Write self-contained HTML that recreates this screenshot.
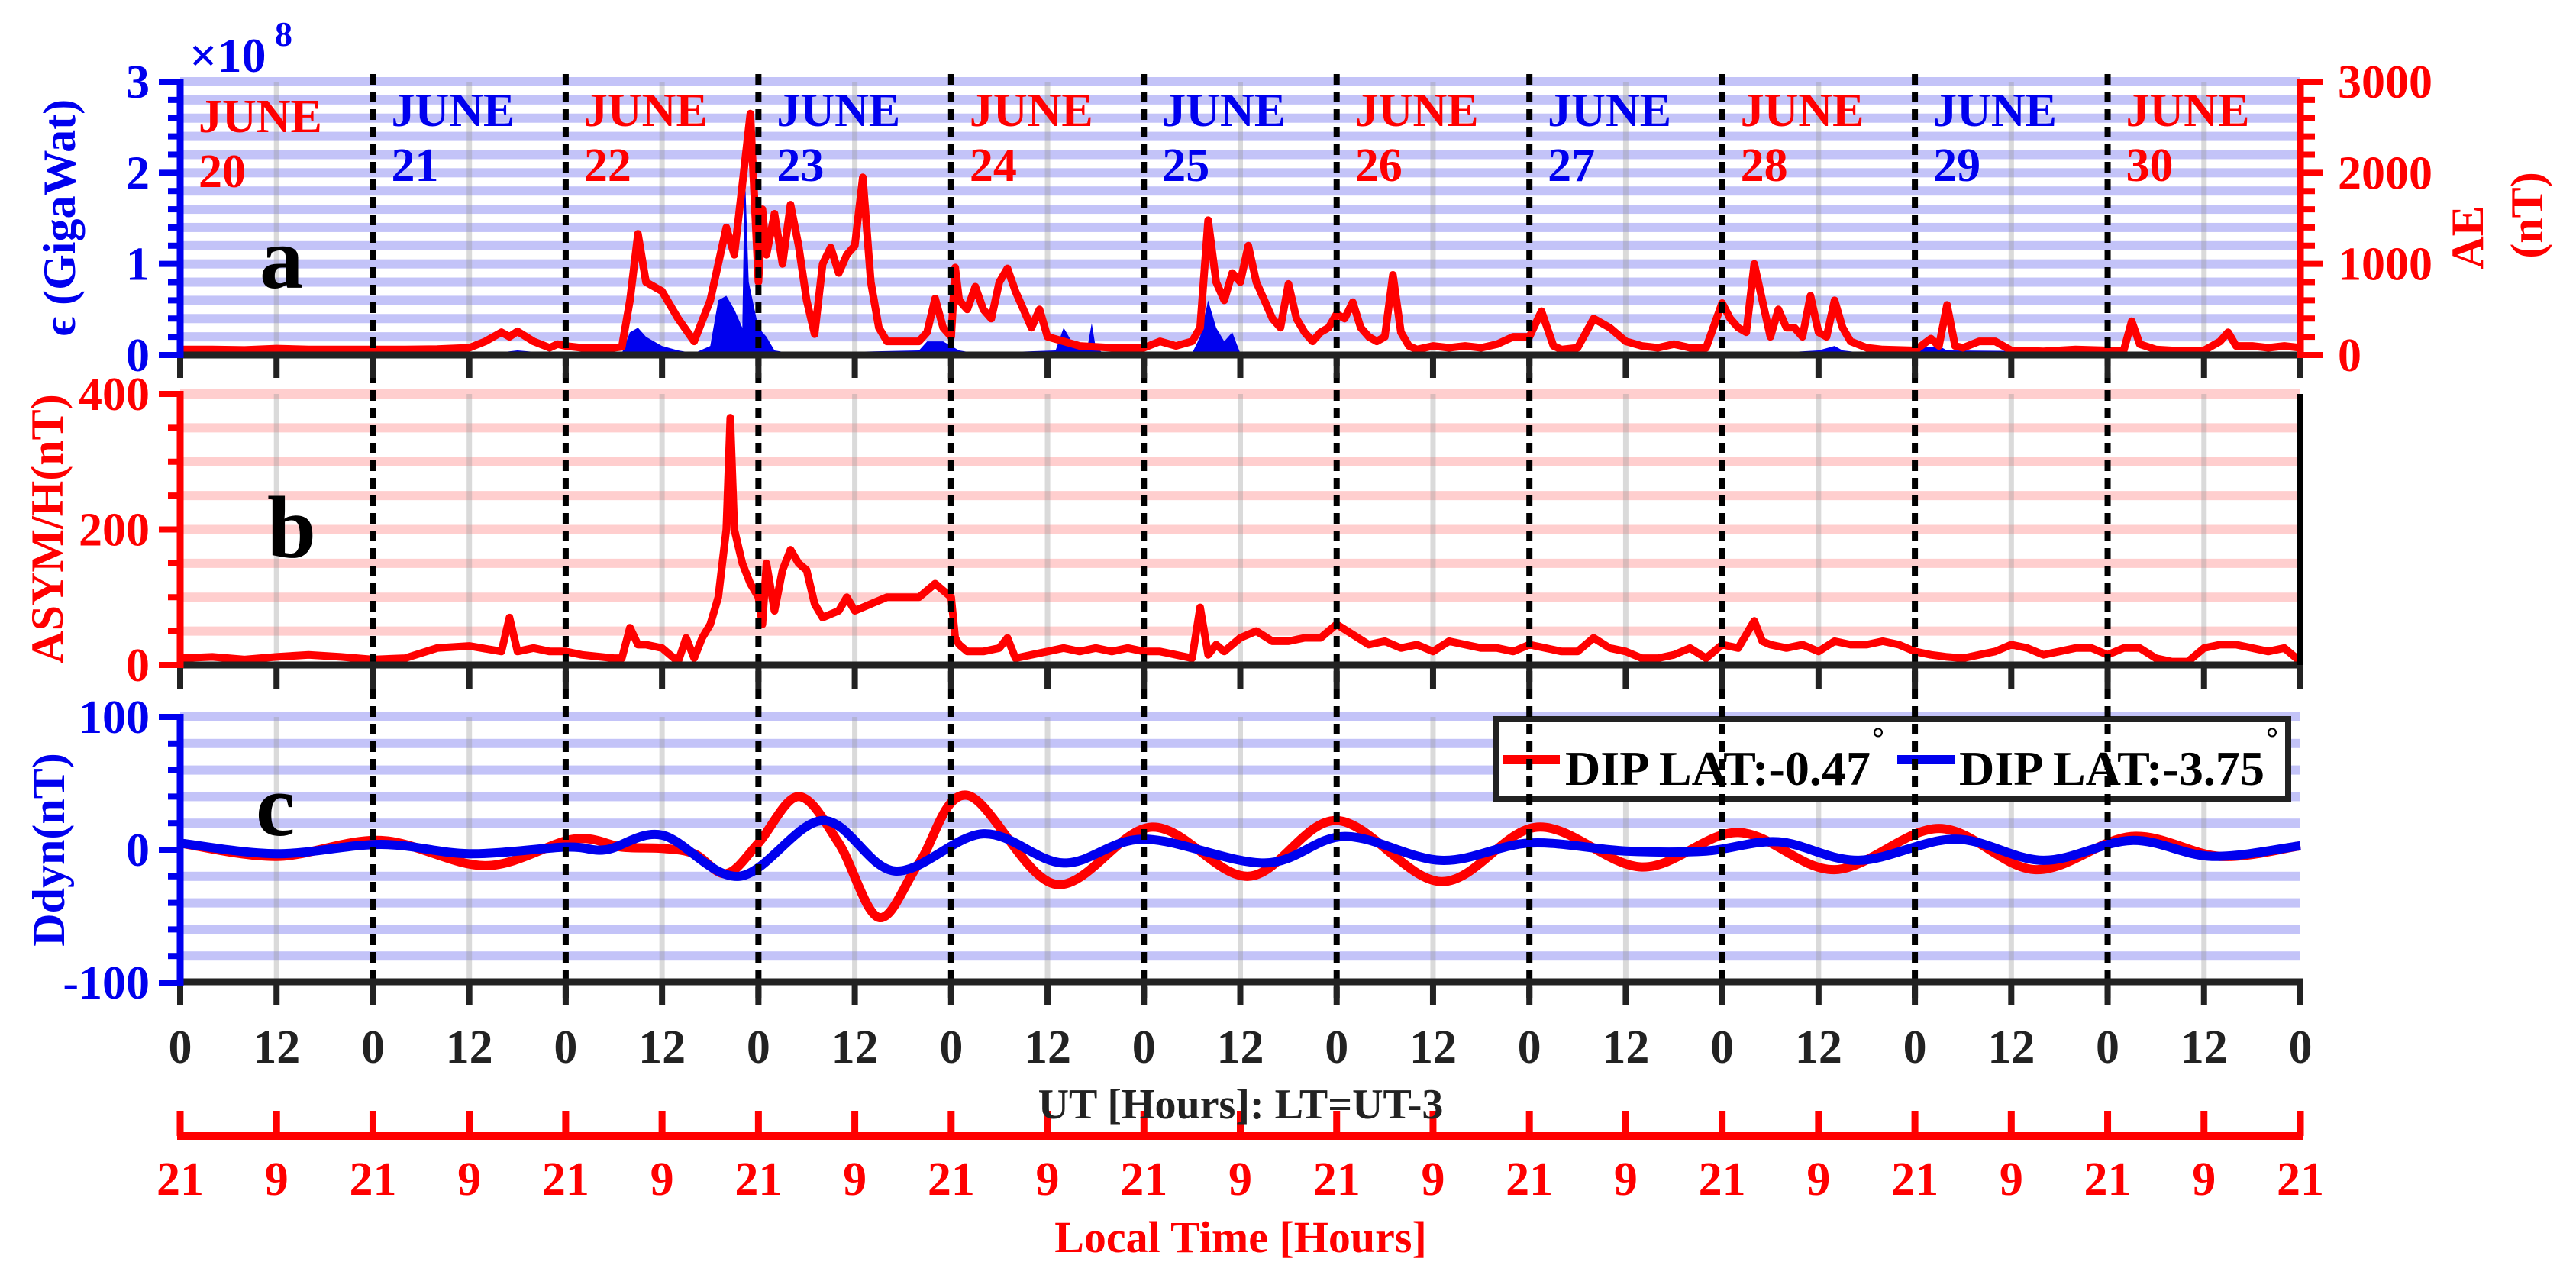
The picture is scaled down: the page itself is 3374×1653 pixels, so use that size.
<!DOCTYPE html>
<html><head><meta charset="utf-8"><style>
html,body{margin:0;padding:0;background:#fff;}
svg{display:block;font-family:"Liberation Serif",serif;font-weight:bold;}
</style></head>
<body>
<svg id="chart" width="3374" height="1653" viewBox="0 0 3374 1653" xmlns="http://www.w3.org/2000/svg">
<g id="bg"></g><g id="marks"></g><g id="fg"></g>
<text x="248" y="94" fill="#0000ee" font-size="64">×10</text>
<text x="360" y="60" fill="#0000ee" font-size="46">8</text>
<text x="340" y="377" font-size="115" fill="#000">a</text>
<text x="350" y="730" font-size="115" fill="#000">b</text>
<text x="335" y="1094" font-size="115" fill="#000">c</text>
<text transform="translate(98,285) rotate(-90)" text-anchor="middle" fill="#0000ee" font-size="60">ϵ (GigaWat)</text>
<text transform="translate(82,693) rotate(-90)" text-anchor="middle" fill="#ff0000" font-size="60">ASYM/H(nT)</text>
<text transform="translate(84,1113) rotate(-90)" text-anchor="middle" fill="#0000ee" font-size="60">Ddyn(nT)</text>
<text transform="translate(3252,311) rotate(-90)" text-anchor="middle" fill="#ff0000" font-size="60">AE</text>
<text transform="translate(3330,282) rotate(-90)" text-anchor="middle" fill="#ff0000" font-size="60">(nT)</text>
<text x="1625" y="1465" text-anchor="middle" fill="#222" font-size="56">UT [Hours]: LT=UT-3</text>
<text x="1625" y="1640" text-anchor="middle" fill="#ff0000" font-size="58">Local Time [Hours]</text>
</svg>
<script>
// ---- data ----
const dayLabels = ["20","21","22","23","24","25","26","27","28","29","30"];
const aeSeries = [[0,60],[4,60],[8,55],[12,70],[16,60],[20,60],[24,60],[28,60],[32,65],[36,80],[38,150],[40,250],[41,200],[42,260],[44,150],[46,80],[47,120],[48,100],[50,80],[54,80],[55,90],[56,600],[57,1330],[58,800],[60,700],[62,400],[64,150],[66,600],[68,1400],[69,1100],[70,1870],[71,2650],[72,800],[72.5,1600],[73,1100],[74,1550],[75,1000],[76,1650],[77,1200],[78,600],[79,230],[80,1000],[81,1180],[82,900],[83,1100],[84,1200],[85,1950],[86,800],[87,300],[88,150],[90,150],[92,150],[93,250],[94,620],[95,300],[96,200],[96.5,960],[97,600],[98,500],[99,750],[100,500],[101,400],[102,800],[103,950],[104,700],[105,500],[106,300],[107,500],[108,200],[110,150],[112,100],[116,80],[120,80],[122,150],[124,100],[126,150],[127,300],[128,1480],[129,800],[130,600],[131,900],[132,800],[133,1200],[134,800],[135,600],[136,400],[137,300],[138,780],[139,400],[140,250],[141,150],[142,250],[143,300],[144,450],[145,400],[146,580],[147,300],[148,200],[149,150],[150,200],[151,880],[152,250],[153,100],[154,60],[156,100],[158,80],[160,100],[162,80],[164,120],[166,200],[168,200],[169.5,480],[171,100],[172,60],[174,80],[176,400],[177,350],[178,300],[180,150],[182,100],[184,80],[186,120],[188,80],[190,80],[192,570],[193,400],[194,300],[195,250],[196,1000],[197,600],[198,200],[199,500],[200,300],[201,300],[202,200],[203,650],[204,250],[205,200],[206,600],[207,300],[208,150],[210,80],[212,60],[216,50],[218,180],[219,100],[220,550],[221,100],[222,80],[224,150],[226,150],[228,50],[232,40],[236,60],[240,50],[242,50],[243,370],[244,120],[246,60],[248,50],[252,50],[254,150],[255,250],[256,100],[258,100],[260,80],[262,100],[264,80]];
const epsSeries = [[0,0.02],[40,0.03],[42,0.05],[46,0.02],[55,0.02],[56,0.25],[57,0.3],[58,0.2],[60,0.1],[62,0.05],[64,0.02],[66,0.1],[67,0.6],[68,0.65],[69,0.5],[70,0.3],[70.3,2.05],[70.8,0.8],[72,0.3],[73,0.2],[74,0.05],[76,0.02],[92,0.05],[93,0.15],[95,0.15],[96,0.1],[97,0.05],[99,0.02],[109,0.05],[110,0.3],[111,0.15],[113,0.1],[113.5,0.35],[114,0.08],[115,0.02],[126,0.02],[127,0.2],[128,0.6],[129,0.3],[130,0.15],[131,0.25],[132,0.02],[200,0.03],[204,0.05],[206,0.1],[207,0.05],[210,0.02],[219,0.1],[220,0.05],[264,0.02]];
const asymSeries = [[0,10],[4,12],[8,8],[12,12],[16,15],[20,12],[24,8],[28,10],[32,25],[36,28],[40,20],[41,70],[42,20],[44,25],[46,20],[48,20],[50,15],[54,10],[55,10],[56,55],[57,30],[58,30],[60,25],[62,5],[63,40],[64,10],[65,40],[66,60],[67,100],[68,200],[68.5,365],[69,200],[70,150],[71,120],[72,100],[72.5,60],[73,150],[74,80],[75,140],[76,170],[77,150],[78,140],[79,90],[80,70],[82,80],[83,100],[84,80],[86,90],[88,100],[90,100],[92,100],[94,120],[95,110],[96,100],[96.5,40],[97,30],[98,20],[100,20],[102,25],[103,40],[104,10],[106,15],[108,20],[110,25],[112,20],[114,25],[116,20],[118,25],[120,20],[122,20],[124,15],[126,10],[127,85],[128,15],[129,30],[130,20],[132,40],[134,50],[136,35],[138,35],[140,40],[142,40],[143,50],[144,60],[146,45],[148,30],[150,35],[152,25],[154,30],[156,20],[158,35],[160,30],[162,25],[164,25],[166,20],[168,30],[170,25],[172,20],[174,20],[176,40],[178,25],[180,20],[182,10],[184,10],[186,15],[188,25],[190,10],[192,30],[194,25],[196,65],[197,35],[198,30],[200,25],[202,30],[204,20],[206,35],[208,30],[210,30],[212,35],[214,30],[216,20],[218,15],[220,12],[222,10],[224,15],[226,20],[228,30],[230,25],[232,15],[234,20],[236,25],[238,25],[240,15],[242,25],[244,25],[246,10],[248,5],[250,5],[252,25],[254,30],[256,30],[258,25],[260,20],[262,25],[264,5]];
const ddynRedSeries = [[0,5],[12,-5],[25,7],[38,-12],[49,8],[55,2],[60,1],[64,-3],[68,-18],[72,5],[77,40],[82,5],[87,-51],[92,-10],[98,41],[109,-26],[121,17],[133,-20],[144,22],[157,-24],[169,17],[182,-13],[194,13],[206,-15],[219,16],[231,-15],[243,10],[254,-5],[264,3]];
const ddynBlueSeries = [[0,5],[12,-3],[25,4],[36,-3],[48,2],[53,0],[60,11],[69.6,-20],[80,22],[89,-16],[100,12],[110,-10],[120,8],[135,-10],[145,10],[157,-8],[168,5],[180,-1],[190,-1],[199,6],[209,-8],[221,8],[232,-8],[243,7],[253,-5],[264,3]];
const utTickLabels = ["0","12"];
const ltTickLabels = ["21","9"];
const aeTickLabels = ["0","1000","2000","3000"];
const epsTickLabels = ["0","1","2","3"];
const asymTickLabels = ["0","200","400"];
const ddynTickLabels = ["-100","0","100"];

// ---- geometry ----
const NS="http://www.w3.org/2000/svg";
const X0=236,X1=3013,HMAX=264;
const x=h=>X0+(X1-X0)*h/HMAX;
const yA=v=>465-(465-107)*v/3;
const yB=v=>871-(871-516)*v/400;
const yC=v=>1113-(1113-939)*v/100;
const BLUE="#0000ee",RED="#ff0000";
const bg=document.getElementById('bg'),marks=document.getElementById('marks'),fg=document.getElementById('fg');
function mk(tag,attrs,parent){const e=document.createElementNS(NS,tag);for(const k in attrs)e.setAttribute(k,attrs[k]);parent.appendChild(e);return e;}

function stripes(fn,vals,color,name){
  vals.forEach(v=>{const r=mk('rect',{x:X0,y:fn(v)-6,width:X1-X0,height:12,fill:color},bg);
    
    });
}
const sa=[];for(let i=1;i<=15;i++)sa.push(i*0.2);
stripes(yA,sa,"rgba(40,40,230,0.28)","eps-grid-stripe");
const sb=[];for(let i=1;i<=8;i++)sb.push(i*50);
stripes(yB,sb,"rgba(255,60,60,0.25)","asym-grid-stripe");
const sc=[];for(let i=-4;i<=5;i++)if(i!==0)sc.push(i*20);
stripes(yC,sc,"rgba(40,40,230,0.28)","ddyn-grid-stripe");
const panels=[[107,465],[516,871],[939,1286]];
for(let h=12;h<HMAX;h+=24){panels.forEach(p=>{const l=mk('line',{x1:x(h),x2:x(h),y1:p[0],y2:p[1],stroke:"rgba(150,150,150,0.35)","stroke-width":7},bg);
  
  });}

function pathFrom(series,fx,fy){return series.map((p,i)=>(i?'L':'M')+fx(p[0]).toFixed(1)+','+fy(p[1]).toFixed(1)).join('');}
const epsArea=mk('path',{d:pathFrom(epsSeries,x,yA)+'L'+x(264)+','+yA(0)+'L'+x(0)+','+yA(0)+'Z',fill:BLUE},marks);


const aeLine=mk('path',{d:pathFrom(aeSeries,x,v=>yA(v/1000)),fill:'none',stroke:RED,'stroke-width':10,'stroke-linejoin':'round'},marks);


const asymLine=mk('path',{d:pathFrom(asymSeries,x,yB),fill:'none',stroke:RED,'stroke-width':10,'stroke-linejoin':'round'},marks);


function smooth(series,fy){const P=series.map(p=>[x(p[0]),fy(p[1])]);let d='M'+P[0][0]+','+P[0][1];
  for(let i=0;i<P.length-1;i++){const p0=P[Math.max(0,i-1)],p1=P[i],p2=P[i+1],p3=P[Math.min(P.length-1,i+2)];
    const c1=[p1[0]+(p2[0]-p0[0])/6,p1[1]+(p2[1]-p0[1])/6],c2=[p2[0]-(p3[0]-p1[0])/6,p2[1]-(p3[1]-p1[1])/6];
    d+='C'+c1.join(',')+' '+c2.join(',')+' '+p2.join(',');}return d;}
const redD=mk('path',{d:smooth(ddynRedSeries,yC),fill:'none',stroke:RED,'stroke-width':12},marks);


const blueD=mk('path',{d:smooth(ddynBlueSeries,yC),fill:'none',stroke:BLUE,'stroke-width':12},marks);



const lg=mk('g',{},fg);


mk('rect',{x:1959,y:942,width:1038,height:104,fill:'#fff',stroke:'#222','stroke-width':8},lg);
mk('line',{x1:1968,x2:2043,y1:995,y2:995,stroke:RED,'stroke-width':12},lg);
mk('line',{x1:2485,x2:2560,y1:995,y2:995,stroke:BLUE,'stroke-width':12},lg);
const t1=mk('text',{x:2050,y:1028,'font-size':64,textLength:400,lengthAdjust:'spacingAndGlyphs',fill:'#000'},lg);t1.textContent='DIP LAT:-0.47';


const d1=mk('text',{x:2452,y:980,'font-size':40,fill:'#000'},lg);d1.textContent='°';
const t2=mk('text',{x:2566,y:1028,'font-size':64,textLength:400,lengthAdjust:'spacingAndGlyphs',fill:'#000'},lg);t2.textContent='DIP LAT:-3.75';


const d2=mk('text',{x:2968,y:980,'font-size':40,fill:'#000'},lg);d2.textContent='°';

for(let k=1;k<11;k++){const l=mk('line',{x1:x(24*k),x2:x(24*k),y1:97,y2:1308,stroke:'#000','stroke-width':8,'stroke-dasharray':'14 9'},fg);
  
  }
dayLabels.forEach((d,i)=>{const c=i%2?BLUE:RED;const xx=x(24*i)+24;
  const a=mk('text',{x:xx,y:i===0?173:165,'font-size':62,fill:c},fg);a.textContent='JUNE';
  
  
  const b=mk('text',{x:xx,y:i===0?245:237,'font-size':62,fill:c},fg);b.textContent=d;
  
  });

function line(x1,y1,x2,y2,c,w,name){const l=mk('line',{x1,y1,x2,y2,stroke:c,'stroke-width':w},fg);
  
  }
[[465,495],[871,903],[1286,1317]].forEach(p=>{line(X0-4,p[0],X1+4,p[0],'#222',9,'x-axis-line');
  for(let h=0;h<=HMAX;h+=12)line(x(h),p[0],x(h),p[1],'#222',8,'x-axis-tick');});
function leftAxis(fn,min,max,step,majorStep,c,labels,name){
  line(X0,fn(max)-4,X0,fn(min)+4,c,9,name+'-line');
  for(let v=min;v<=max+1e-9;v+=step){const major=Math.abs(v/majorStep-Math.round(v/majorStep))<1e-6;
    line(major?208:220,fn(v),X0,fn(v),c,8,name+'-tick');}
  labels.forEach(s=>{const t=mk('text',{x:196,y:fn(+s)+21,'text-anchor':'end','font-size':62,fill:c},fg);t.textContent=s;
    
    });
}
leftAxis(yA,0,3,0.2,1,BLUE,epsTickLabels,'eps-axis');
leftAxis(yB,0,400,50,200,RED,asymTickLabels,'asym-axis');
leftAxis(yC,-100,100,20,100,BLUE,ddynTickLabels,'ddyn-axis');
line(X1,yA(3)-4,X1,yA(0)+4,RED,9,'ae-axis-line');
for(let v=0;v<=3000;v+=200){const major=v%1000===0;line(X1,yA(v/1000),major?3042:3032,yA(v/1000),RED,8,'ae-axis-tick');}
aeTickLabels.forEach(s=>{const t=mk('text',{x:3062,y:yA(+s/1000)+21,'font-size':62,fill:RED},fg);t.textContent=s;
  
  });
line(X1,516,X1,871,'#000',8,'asym-right-border');
for(let h=0,i=0;h<=HMAX;h+=12,i++){const t=mk('text',{x:x(h),y:1392,'text-anchor':'middle','font-size':62,fill:'#222'},fg);t.textContent=utTickLabels[i%2];
  
  }
line(X0-4,1488,X1+4,1488,RED,10,'lt-axis-line');
for(let h=0,i=0;h<=HMAX;h+=12,i++){line(x(h),1455,x(h),1488,RED,9,'lt-axis-tick');
  const t=mk('text',{x:x(h),y:1565,'text-anchor':'middle','font-size':62,fill:RED},fg);t.textContent=ltTickLabels[i%2];
  
  }
</script>
</body></html>
